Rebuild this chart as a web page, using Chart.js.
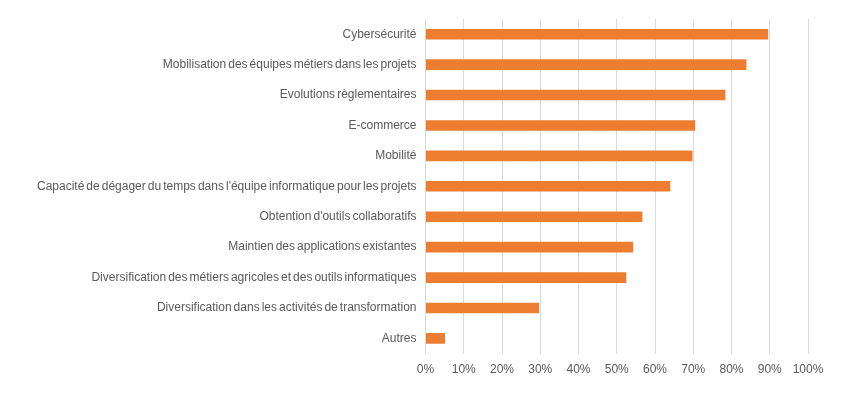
<!DOCTYPE html>
<html>
<head>
<meta charset="utf-8">
<script src="https://cdn.jsdelivr.net/npm/chart.js@4"></script>
<style>
  html, body { margin: 0; padding: 0; background: #fff; }
  #wrap { width: 863px; height: 393px; }
</style>
</head>
<body>
<div id="wrap"><canvas id="chart"></canvas></div>
<script>
/* =====================================
   DATA
======================================== */

const categories = [
    "Cybersécurité",
    "Mobilisation des équipes métiers dans les projets",
    "Evolutions règlementaires",
    "E-commerce",
    "Mobilité",
    "Capacité de dégager du temps dans l'équipe informatique pour les projets",
    "Obtention d'outils collaboratifs",
    "Maintien des applications existantes",
    "Diversification des métiers agricoles et des outils informatiques",
    "Diversification dans les activités de transformation",
    "Autres"
];

const shares = [89.6, 83.9, 78.4, 70.5, 69.8, 64.0, 56.7, 54.3, 52.5, 29.7, 5.1];

const xTicks = [0, 10, 20, 30, 40, 50, 60, 70, 80, 90, 100];

/* =====================================
   CHART
======================================== */

Chart.defaults.font.family = "'Liberation Sans', Arial, sans-serif";
Chart.defaults.font.size = 12;
Chart.defaults.color = "#595959";

// the original labels use tighter spaces between words
const tightWords = {
    id: 'tightWords',
    beforeDraw: chart => { chart.ctx.wordSpacing = '-1.3px'; }
};

const chartCanvas = document.getElementById("chart");

let chart = new Chart(chartCanvas, {
    type: 'bar',
    data: {
        labels: categories,
        datasets: [{
            data: shares,
            backgroundColor: '#ED7D31',
            barPercentage: 0.7,
            categoryPercentage: 0.5
        }]
    },
    options: {
        indexAxis: 'y',
        responsive: true,
        maintainAspectRatio: false,
        animation: false,
        layout: {
            padding: { top: 19, right: 55, bottom: 7, left: 0 }
        },
        scales: {
            x: {
                min: 0,
                max: 100,
                afterBuildTicks: scale => {
                    scale.ticks = xTicks.map(v => ({ value: v }));
                },
                ticks: {
                    padding: 9,
                    callback: v => v + '%'
                },
                grid: {
                    color: '#D9D9D9',
                    drawTicks: false
                },
                border: { display: false }
            },
            y: {
                afterFit: scale => { scale.width = 425.5; },
                ticks: { padding: 9 },
                grid: { display: false, drawTicks: false },
                border: { display: false }
            }
        },
        plugins: {
            legend: { display: false },
            tooltip: { enabled: false }
        }
    },
    plugins: [tightWords]
});
</script>
</body>
</html>
